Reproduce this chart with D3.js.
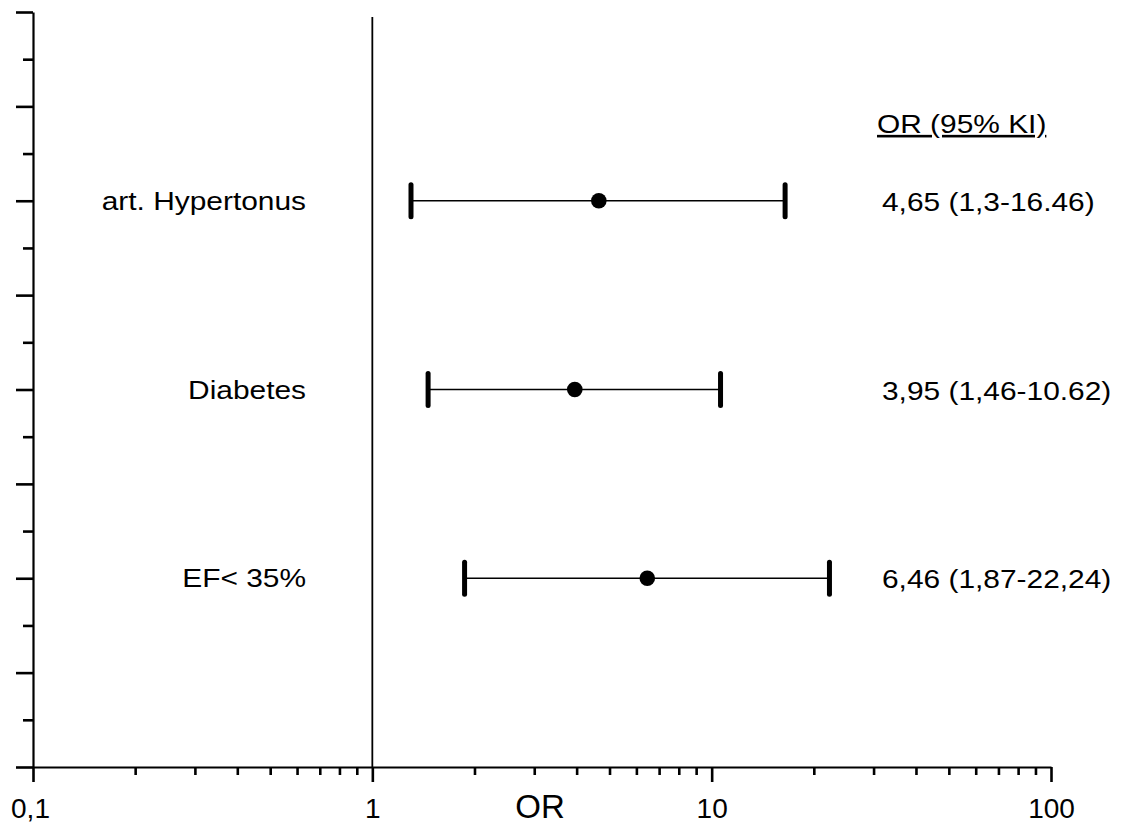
<!DOCTYPE html>
<html>
<head>
<meta charset="utf-8">
<script src="https://cdn.jsdelivr.net/npm/d3@7"></script>
<style>
  body { margin: 0; background: #fff; }
  text { font-family: "Liberation Sans", Arial, sans-serif; fill: #000; }
</style>
</head>
<body>
<div id="forest"></div>
<script>
// data
const factors = ["art. Hypertonus", "Diabetes", "EF< 35%"];
const rowPos = [6, 4, 2];
const oddsRatio = [4.65, 3.95, 6.46];
const ciLow = [1.3, 1.46, 1.87];
const ciHigh = [16.46, 10.62, 22.24];
const ciText = ["4,65 (1,3-16.46)", "3,95 (1,46-10.62)", "6,46 (1,87-22,24)"];
const xMajor = [0.1, 1, 10, 100];
const yMajor = [0, 1, 2, 3, 4, 5, 6, 7, 8];

function main() {
    const width = 1125;
    const height = 831;
    const stretch = 1.15;   // text in the original is drawn a bit wide

    const svg = d3.select("#forest")
        .append("svg")
        .attr("width", width)
        .attr("height", height)

    const x = d3.scaleLog().domain([0.1, 100]).range([33, 1051])
    const y = d3.scaleLinear().domain([0, 8]).range([767, 12])

    // minor ticks of the log axis (2..9 in each decade)
    const xMinor = []
    xMajor.slice(0, -1).forEach(d => {
        for (let k = 2; k <= 9; k++) xMinor.push(d * k)
    })
    const yMinor = yMajor.slice(0, -1).map(d => d + 0.5)

    // x axis
    const xAxis = svg.append("g")
        .attr("transform", `translate(0,${y(0)})`)
        .call(d3.axisBottom(x)
            .tickValues(xMajor)
            .tickSize(15)
            .tickSizeOuter(0)
            .tickPadding(16)
            .tickFormat(d => String(d).replace(".", ",")))
    xAxis.selectAll("text").style("font-size", "28px").attr("fill", "#000")
    xAxis.selectAll(".tick").filter(d => d === 0.1).select("text").attr("dx", -3)

    svg.append("g")
        .attr("transform", `translate(0,${y(0)})`)
        .call(d3.axisBottom(x).tickValues(xMinor).tickSize(8).tickFormat(""))
        .call(g => g.select(".domain").remove())

    // y axis
    svg.append("g")
        .attr("transform", `translate(${x(0.1)},0)`)
        .call(d3.axisLeft(y).tickValues(yMajor).tickSize(17).tickSizeOuter(0).tickFormat(""))

    svg.append("g")
        .attr("transform", `translate(${x(0.1)},0)`)
        .call(d3.axisLeft(y).tickValues(yMinor).tickSize(10).tickFormat(""))
        .call(g => g.select(".domain").remove())

    svg.selectAll(".domain").attr("stroke", "#000").attr("stroke-width", 2.2)
    svg.selectAll(".tick line").attr("stroke", "#000").attr("stroke-width", 2.6)

    // reference line at OR = 1
    svg.append("line")
        .attr("x1", x(1)).attr("x2", x(1))
        .attr("y1", 17).attr("y2", y(0))
        .attr("stroke", "#000")
        .attr("stroke-width", 1.8)

    const rows = factors.map((f, i) => ({
        name: f, pos: rowPos[i], or: oddsRatio[i], lo: ciLow[i], hi: ciHigh[i], txt: ciText[i]
    }))

    const row = svg.append("g").selectAll("g")
        .data(rows)
        .join("g")

    row.append("line")
        .attr("x1", d => x(d.lo)).attr("x2", d => x(d.hi))
        .attr("y1", d => y(d.pos)).attr("y2", d => y(d.pos))
        .attr("stroke", "#000")
        .attr("stroke-width", 1.4)

    row.selectAll(".cap")
        .data(d => [{ v: d.lo, pos: d.pos }, { v: d.hi, pos: d.pos }])
        .join("line")
        .attr("class", "cap")
        .attr("x1", d => x(d.v)).attr("x2", d => x(d.v))
        .attr("y1", d => y(d.pos) - 16).attr("y2", d => y(d.pos) + 16)
        .attr("stroke", "#000")
        .attr("stroke-width", 5)
        .attr("stroke-linecap", "round")

    row.append("circle")
        .attr("cx", d => x(d.or))
        .attr("cy", d => y(d.pos))
        .attr("r", 7.8)
        .attr("fill", "#000")

    row.append("text")
        .attr("transform", d => `translate(306,${y(d.pos) + 9}) scale(${stretch},1)`)
        .attr("text-anchor", "end")
        .style("font-size", "26px")
        .text(d => d.name)

    row.append("text")
        .attr("transform", d => `translate(882,${y(d.pos) + 10}) scale(${stretch},1)`)
        .style("font-size", "26px")
        .text(d => d.txt)

    // column header
    svg.append("text")
        .attr("transform", `translate(877,133) scale(${stretch},1)`)
        .style("font-size", "26px")
        .style("text-decoration", "underline")
        .text("OR (95% KI)")

    // axis title
    svg.append("text")
        .attr("x", 540)
        .attr("y", 818)
        .attr("text-anchor", "middle")
        .style("font-size", "33px")
        .text("OR")
}
main();
</script>
</body>
</html>
